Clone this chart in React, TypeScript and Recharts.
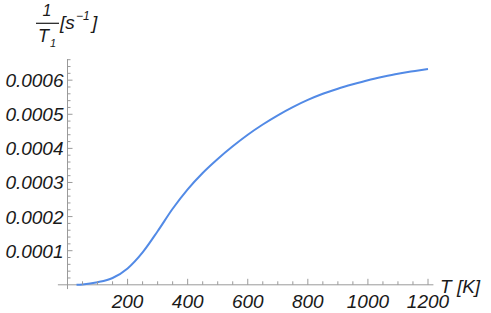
import { Line, LineChart, ReferenceLine, XAxis, YAxis } from "recharts";

// temperature T [K]
const temps = [30, 50, 100, 150, 200, 250, 300, 350, 400, 450, 500, 550, 600, 650, 700, 750, 800, 850, 900, 950, 1000, 1050, 1100, 1150, 1200];
// relaxation rate 1/T1 [s^-1]
const rates = [
  0, 0.000001, 0.0000075, 0.00002, 0.000048, 0.000095, 0.000157, 0.000223, 0.00028, 0.000328, 0.000369, 0.000406,
  0.00044, 0.00047, 0.000497, 0.000521, 0.000542, 0.00056, 0.000575, 0.000588, 0.0006, 0.00061, 0.000619, 0.000626,
  0.000633,
];

const xTicks = [50, 100, 150, 200, 250, 300, 350, 400, 450, 500, 550, 600, 650, 700, 750, 800, 850, 900, 950, 1000, 1050, 1100, 1150, 1200];
const xMajor = [200, 400, 600, 800, 1000, 1200];
const yTicks = [
  0.00002, 0.00004, 0.00006, 0.00008, 0.0001, 0.00012, 0.00014, 0.00016, 0.00018, 0.0002, 0.00022, 0.00024, 0.00026,
  0.00028, 0.0003, 0.00032, 0.00034, 0.00036, 0.00038, 0.0004, 0.00042, 0.00044, 0.00046, 0.00048, 0.0005, 0.00052,
  0.00054, 0.00056, 0.00058, 0.0006, 0.00062, 0.00064, 0.00066,
];

const data = temps.map((t, i) => ({ t, rate: rates[i] }));

const AXIS = "#9a9a9a";
const TEXT = "#1a1a1a";
const FONT = "'Liberation Sans', Arial, sans-serif";

const isMajorY = (v: number) => Math.abs(v * 10000 - Math.round(v * 10000)) < 1e-6;

// ticks point into the plot, Mathematica style
function XTick({ x, y, payload }: any) {
  const major = xMajor.includes(payload.value);
  return (
    <g>
      <line x1={x} x2={x} y1={y} y2={y - (major ? 6 : 3.5)} stroke={AXIS} strokeWidth={1} />
      {major ? (
        <text x={x} y={y + 23} textAnchor="middle" fontSize={19} fontStyle="italic" fontFamily={FONT} fill={TEXT}>
          {payload.value}
        </text>
      ) : null}
    </g>
  );
}

function YTick({ x, y, payload }: any) {
  const major = isMajorY(payload.value);
  return (
    <g>
      <line x1={x} x2={x + (major ? 5 : 3)} y1={y} y2={y} stroke={AXIS} strokeWidth={1} />
      {major ? (
        <text x={x - 4} y={y + 7} textAnchor="end" fontSize={19} fontStyle="italic" fontFamily={FONT} fill={TEXT}>
          {payload.value.toFixed(4)}
        </text>
      ) : null}
    </g>
  );
}

export default function App() {
  return (
    <div style={{ position: "absolute", left: 0, top: 0, width: 491, height: 313, background: "#fff" }}>
      <LineChart width={491} height={313} data={data} margin={{ top: 59.7, right: 63, bottom: 0, left: 0 }}>
        <XAxis
          type="number"
          dataKey="t"
          domain={[0, 1200]}
          ticks={xTicks}
          interval={0}
          height={28.2}
          tickSize={0}
          tickMargin={0}
          axisLine={false}
          tickLine={false}
          tick={(p: any) => <XTick {...p} />}
        />
        <YAxis
          type="number"
          domain={[0, 0.00066]}
          ticks={yTicks}
          interval={0}
          width={67.5}
          tickSize={0}
          tickMargin={0}
          axisLine={false}
          tickLine={false}
          tick={(p: any) => <YTick {...p} />}
        />
        <ReferenceLine
          segment={[{ x: -32, y: 0 }, { x: 1218, y: 0 }]}
          stroke={AXIS}
          strokeWidth={1}
          ifOverflow="visible"
        />
        <ReferenceLine
          segment={[{ x: 0, y: -0.0000125 }, { x: 0, y: 0.000662 }]}
          stroke={AXIS}
          strokeWidth={1}
          ifOverflow="visible"
        />
        <Line
          type="monotone"
          dataKey="rate"
          stroke="#528ae6"
          strokeWidth={2}
          dot={false}
          isAnimationActive={false}
        />
      </LineChart>
      <svg width={491} height={313} style={{ position: "absolute", left: 0, top: 0, pointerEvents: "none" }}>
        <g fontFamily={FONT} fontStyle="italic" fill={TEXT}>
          <text x={47} y={16} textAnchor="middle" fontSize={16}>1</text>
          <line x1={36} x2={59} y1={23.3} y2={23.3} stroke={TEXT} strokeWidth={1.2} />
          <text x={38} y={42} fontSize={18}>T</text>
          <text x={50} y={47} fontSize={11}>1</text>
          <text x={60} y={29} fontSize={19}>[s</text>
          <text x={76} y={20} fontSize={12}>−1</text>
          <text x={92} y={29} fontSize={19}>]</text>
          <text x={440} y={293} fontSize={19}>T [K]</text>
        </g>
      </svg>
    </div>
  );
}
